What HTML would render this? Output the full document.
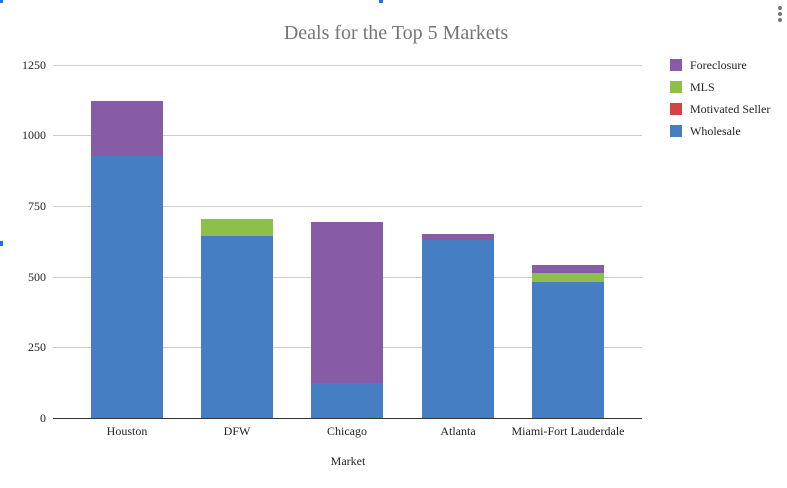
<!DOCTYPE html>
<html><head><style>body{margin:0;background:#fff}</style></head><body>
<svg width="787" height="483" xmlns="http://www.w3.org/2000/svg" font-family="Liberation Serif, serif">
<rect width="787" height="483" fill="#fff"/>
<rect x="0" y="0" width="3" height="3" fill="#1a73e8"/>
<rect x="379" y="0" width="4" height="3" fill="#1a73e8"/>
<rect x="0" y="241" width="3" height="5" fill="#1a73e8"/>
<text x="396" y="39" font-size="20" fill="#757575" text-anchor="middle">Deals for the Top 5 Markets</text>
<g stroke="#ccc" stroke-width="1">
<line x1="53" x2="642" y1="65.5" y2="65.5"/><line x1="53" x2="642" y1="135.5" y2="135.5"/>
<line x1="53" x2="642" y1="206.5" y2="206.5"/><line x1="53" x2="642" y1="277.5" y2="277.5"/>
<line x1="53" x2="642" y1="347.5" y2="347.5"/>
</g>
<g font-size="12" fill="#222" text-anchor="end">
<text x="46" y="69">1250</text><text x="46" y="139">1000</text><text x="46" y="210">750</text>
<text x="46" y="281">500</text><text x="46" y="351">250</text><text x="46" y="422">0</text>
</g>
<rect x="91" y="101" width="72" height="56" fill="#875ba5"/><rect x="91" y="156" width="72" height="262" fill="#467ec4"/>
<rect x="201" y="219" width="72" height="18" fill="#8fbf4b"/><rect x="201" y="236" width="72" height="182" fill="#467ec4"/>
<rect x="311" y="222" width="72" height="162" fill="#875ba5"/><rect x="311" y="383" width="72" height="35" fill="#467ec4"/>
<rect x="422" y="234" width="72" height="7" fill="#875ba5"/><rect x="422" y="240" width="72" height="178" fill="#467ec4"/>
<rect x="532" y="265" width="72" height="9" fill="#875ba5"/><rect x="532" y="273" width="72" height="10" fill="#8fbf4b"/><rect x="532" y="282" width="72" height="136" fill="#467ec4"/>
<line x1="53" x2="642" y1="418.5" y2="418.5" stroke="#333"/>
<g font-size="12" fill="#222" text-anchor="middle">
<text x="127" y="435">Houston</text><text x="237" y="435">DFW</text><text x="347" y="435">Chicago</text>
<text x="458" y="435">Atlanta</text><text x="568" y="435">Miami-Fort Lauderdale</text>
<text x="348" y="465">Market</text>
</g>
<g font-size="12" fill="#222">
<rect x="670" y="59" width="12" height="12" fill="#875ba5"/><text x="690" y="69">Foreclosure</text>
<rect x="670" y="81" width="12" height="12" fill="#8fbf4b"/><text x="690" y="91">MLS</text>
<rect x="670" y="103" width="12" height="12" fill="#d04443"/><text x="690" y="113">Motivated Seller</text>
<rect x="670" y="125" width="12" height="12" fill="#467ec4"/><text x="690" y="135">Wholesale</text>
</g>
<g fill="#777"><circle cx="780" cy="8" r="2"/><circle cx="780" cy="14" r="2"/><circle cx="780" cy="20" r="2"/></g>
</svg>
</body></html>
